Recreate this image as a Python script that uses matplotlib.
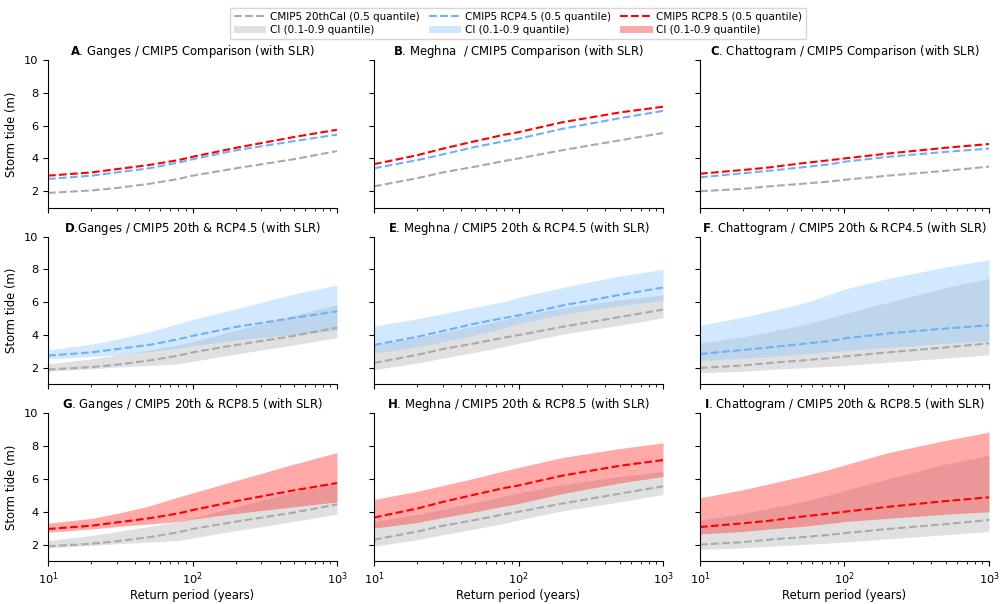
import matplotlib
matplotlib.use("Agg")
import matplotlib.pyplot as plt
from matplotlib.patches import Patch
from matplotlib.lines import Line2D

return_period = [10, 20, 30, 50, 80, 100, 200, 500, 1000]

# Ganges
g20_med = [1.9, 2.05, 2.2, 2.45, 2.75, 2.95, 3.4, 3.95, 4.45]
g20_lo = [1.8, 1.95, 2.05, 2.15, 2.25, 2.4, 2.85, 3.4, 3.85]
g20_hi = [2.25, 2.55, 2.8, 3.1, 3.4, 3.6, 4.3, 5.2, 5.85]
g45_med = [2.75, 2.95, 3.15, 3.4, 3.75, 3.95, 4.5, 5.05, 5.45]
g45_lo = [2.55, 2.7, 2.8, 3.0, 3.2, 3.35, 3.7, 4.05, 4.3]
g45_hi = [3.1, 3.45, 3.75, 4.2, 4.7, 4.95, 5.6, 6.5, 7.05]
g85_med = [2.95, 3.15, 3.35, 3.6, 3.9, 4.1, 4.65, 5.3, 5.75]
g85_lo = [2.75, 2.95, 3.1, 3.25, 3.4, 3.55, 3.9, 4.3, 4.6]
g85_hi = [3.3, 3.6, 3.9, 4.35, 4.9, 5.15, 5.9, 6.9, 7.6]

# Meghna
m20_med = [2.3, 2.8, 3.15, 3.5, 3.85, 4.0, 4.5, 5.1, 5.55]
m20_lo = [1.9, 2.3, 2.6, 2.95, 3.3, 3.5, 4.05, 4.6, 5.05]
m20_hi = [3.4, 3.85, 4.15, 4.55, 4.95, 5.15, 5.65, 6.15, 6.45]
m45_med = [3.4, 3.9, 4.25, 4.7, 5.05, 5.2, 5.8, 6.45, 6.9]
m45_lo = [2.9, 3.3, 3.6, 4.0, 4.45, 4.7, 5.25, 5.8, 6.1]
m45_hi = [4.55, 5.0, 5.3, 5.7, 6.05, 6.3, 6.9, 7.6, 8.0]
m85_med = [3.65, 4.2, 4.6, 5.05, 5.45, 5.6, 6.2, 6.8, 7.15]
m85_lo = [3.0, 3.35, 3.65, 4.0, 4.35, 4.5, 5.1, 5.75, 6.15]
m85_hi = [4.75, 5.25, 5.6, 6.05, 6.5, 6.7, 7.3, 7.85, 8.2]

# Chattogram
c20_med = [2.0, 2.15, 2.3, 2.45, 2.6, 2.7, 2.95, 3.25, 3.5]
c20_lo = [1.7, 1.8, 1.9, 2.0, 2.1, 2.15, 2.35, 2.6, 2.8]
c20_hi = [3.5, 3.9, 4.2, 4.6, 5.05, 5.3, 6.0, 6.9, 7.45]
c45_med = [2.85, 3.1, 3.25, 3.45, 3.65, 3.8, 4.1, 4.4, 4.6]
c45_lo = [2.45, 2.6, 2.7, 2.85, 3.0, 3.05, 3.25, 3.5, 3.65]
c45_hi = [4.6, 5.1, 5.45, 5.9, 6.5, 6.8, 7.45, 8.15, 8.6]
c85_med = [3.07, 3.3, 3.45, 3.7, 3.9, 4.0, 4.3, 4.65, 4.88]
c85_lo = [2.65, 2.8, 2.95, 3.1, 3.3, 3.4, 3.6, 3.85, 4.0]
c85_hi = [4.85, 5.35, 5.7, 6.15, 6.6, 6.85, 7.6, 8.35, 8.85]

titles = [
    [r"$\mathbf{A}$. Ganges / CMIP5 Comparison (with SLR)",
     r"$\mathbf{B}$. Meghna  / CMIP5 Comparison (with SLR)",
     r"$\mathbf{C}$. Chattogram / CMIP5 Comparison (with SLR)"],
    [r"$\mathbf{D}$.Ganges / CMIP5 20th & RCP4.5 (with SLR)",
     r"$\mathbf{E}$. Meghna / CMIP5 20th & RCP4.5 (with SLR)",
     r"$\mathbf{F}$. Chattogram / CMIP5 20th & RCP4.5 (with SLR)"],
    [r"$\mathbf{G}$. Ganges / CMIP5 20th & RCP8.5 (with SLR)",
     r"$\mathbf{H}$. Meghna / CMIP5 20th & RCP8.5 (with SLR)",
     r"$\mathbf{I}$. Chattogram / CMIP5 20th & RCP8.5 (with SLR)"],
]

data = [
    dict(h=(g20_med, g20_lo, g20_hi), r45=(g45_med, g45_lo, g45_hi), r85=(g85_med, g85_lo, g85_hi)),
    dict(h=(m20_med, m20_lo, m20_hi), r45=(m45_med, m45_lo, m45_hi), r85=(m85_med, m85_lo, m85_hi)),
    dict(h=(c20_med, c20_lo, c20_hi), r45=(c45_med, c45_lo, c45_hi), r85=(c85_med, c85_lo, c85_hi)),
]

grey_line = "#aaaaaa"
blue_line = "#6db0fb"
red_line = "#ff0000"
grey_fill = "#e0e0e0"
blue_fill = (0.55, 0.78, 1.0, 0.4)
red_fill = (1.0, 0.2, 0.2, 0.42)

FS = 8.4

fig, axes = plt.subplots(3, 3, figsize=(10, 6.04), dpi=100, sharex=True, sharey=True)
fig.subplots_adjust(left=0.048, right=0.989, top=0.9007, bottom=0.0712,
                    wspace=0.128, hspace=0.196)

for col in range(3):
    d = data[col]
    x = return_period
    ax = axes[0, col]
    ax.plot(x, d["h"][0], ls="--", color=grey_line, lw=1.5)
    ax.plot(x, d["r45"][0], ls="--", color=blue_line, lw=1.5)
    ax.plot(x, d["r85"][0], ls="--", color=red_line, lw=1.5)
    ax = axes[1, col]
    ax.fill_between(x, d["h"][1], d["h"][2], color=grey_fill, lw=0)
    ax.fill_between(x, d["r45"][1], d["r45"][2], color=blue_fill, lw=0)
    ax.plot(x, d["h"][0], ls="--", color=grey_line, lw=1.5)
    ax.plot(x, d["r45"][0], ls="--", color=blue_line, lw=1.5)
    ax = axes[2, col]
    ax.fill_between(x, d["h"][1], d["h"][2], color=grey_fill, lw=0)
    ax.fill_between(x, d["r85"][1], d["r85"][2], color=red_fill, lw=0)
    ax.plot(x, d["h"][0], ls="--", color=grey_line, lw=1.5)
    ax.plot(x, d["r85"][0], ls="--", color=red_line, lw=1.5)

for r in range(3):
    for c in range(3):
        ax = axes[r, c]
        ax.set_xscale("log")
        ax.set_xlim(10, 1000)
        ax.set_ylim(1, 10)
        ax.set_yticks([2, 4, 6, 8, 10])
        ax.spines["top"].set_visible(False)
        ax.spines["right"].set_visible(False)
        ax.tick_params(labelsize=8.2)
        ax.set_title(titles[r][c], fontsize=FS, pad=3.5)
        if c == 0:
            ax.set_ylabel("Storm tide (m)", fontsize=FS, labelpad=4)
        if r == 2:
            ax.set_xlabel("Return period (years)", fontsize=FS, labelpad=1.5)

handles = [
    Line2D([], [], ls="--", color=grey_line, lw=1.5),
    Patch(facecolor=grey_fill, edgecolor="none"),
    Line2D([], [], ls="--", color=blue_line, lw=1.5),
    Patch(facecolor=(0.8, 0.9, 1.0), edgecolor="none"),
    Line2D([], [], ls="--", color=red_line, lw=1.5),
    Patch(facecolor=(1.0, 0.66, 0.66), edgecolor="none"),
]
labels = [
    "CMIP5 20thCal (0.5 quantile)", "CI (0.1-0.9 quantile)",
    "CMIP5 RCP4.5 (0.5 quantile)", "CI (0.1-0.9 quantile)",
    "CMIP5 RCP8.5 (0.5 quantile)", "CI (0.1-0.9 quantile)",
]
fig.legend(handles, labels, loc="upper center", bbox_to_anchor=(0.518, 0.995),
           ncol=3, fontsize=7.5, frameon=True, fancybox=False,
           edgecolor="#cccccc", handlelength=3.1, columnspacing=0.9,
           labelspacing=0.3, borderpad=0.35, handletextpad=0.35)

fig.savefig("out.png", dpi=100)
